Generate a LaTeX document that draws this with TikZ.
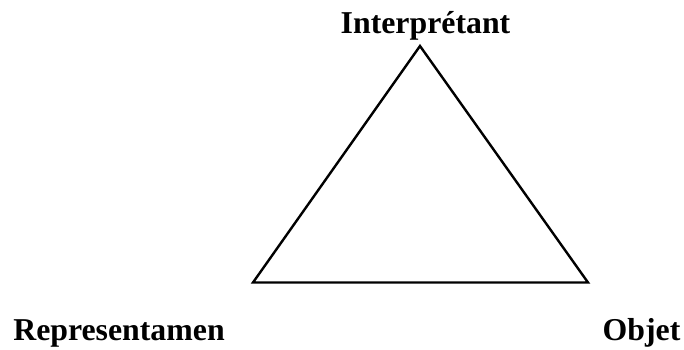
\documentclass[tikz,border=0pt]{standalone}
\usepackage{fontspec}
\setmainfont{Liberation Serif}
\tikzset{
  side/.style={draw=black, line width=2.4pt, line join=miter},
  pole/.style={font=\fontsize{31.8}{38}\selectfont\bfseries, inner sep=0pt, anchor=base},
}
\begin{document}
\begin{tikzpicture}[x=1pt,y=-1pt]
\useasboundingbox (0,0) rectangle (684,349);
\coordinate (apex) at (420,46);
\coordinate (left) at (253,282.5);
\coordinate (right) at (588,282.5);
\draw[side] (apex) -- (left) -- (right) -- cycle;
\node[pole] (interp) at (425.5,33) {Interprétant};
\node[pole] (repr) at (119,340) {Representamen};
\node[pole] (objet) at (641.5,340) {Objet};
\end{tikzpicture}
\end{document}
